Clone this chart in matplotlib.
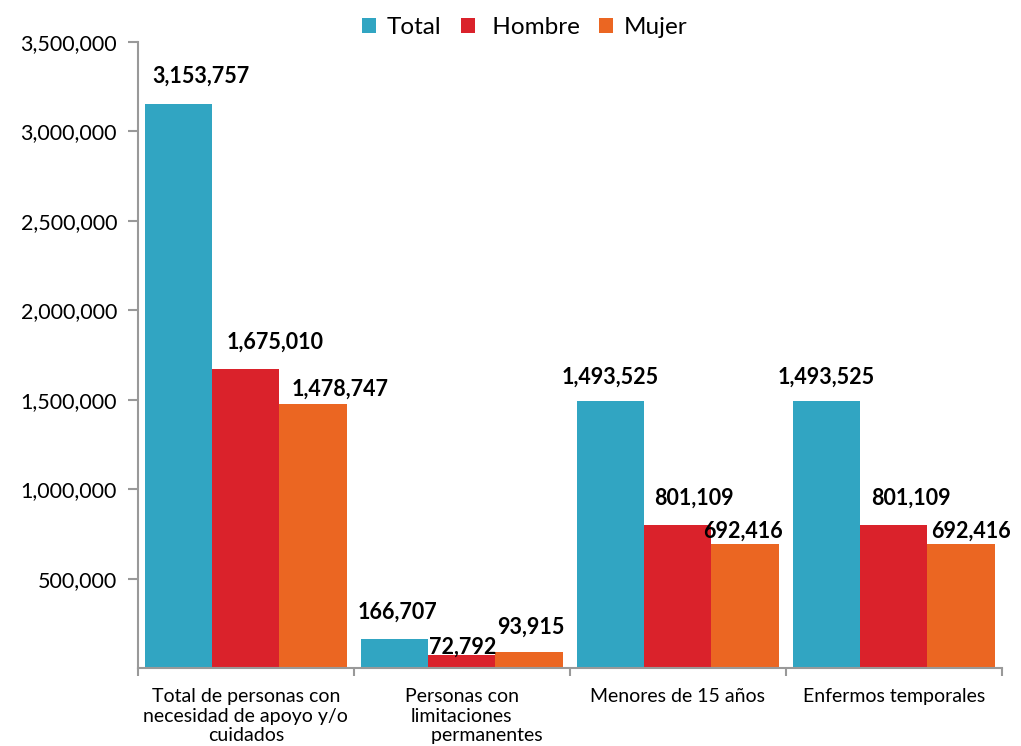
import numpy as np
import matplotlib.pyplot as plt
from matplotlib.ticker import FuncFormatter

categories = ["Total de personas con\nnecesidad de apoyo y/o\ncuidados",
              "Personas con\nlimitaciones\n          permanentes",
              "Menores de 15 años",
              "Enfermos temporales"]
series = ["Total", " Hombre", "Mujer"]
total = [3153757, 166707, 1493525, 1493525]
hombre = [1675010, 72792, 801109, 801109]
mujer = [1478747, 93915, 692416, 692416]

colors = ["#31A5C2", "#DA222B", "#EB6622"]
# manual label offsets (pixels) as in the original, per series / group
label_off = [
    [(23, 28), (3, 26), (0, 24), (0, 24)],
    [(29, 26), (1, 8), (16, 27), (17, 27)],
    [(27, 14), (2, 24), (-2, 13), (10, 13)],
]

plt.rcParams['font.family'] = ['Lato', 'DejaVu Sans']

fig = plt.figure(figsize=(10.21, 7.46), dpi=100)
ax = fig.add_axes([0.135, 0.104, 0.846, 0.84])

x = np.arange(len(categories))
w = 0.312
values = [total, hombre, mujer]
for i, (name, vals) in enumerate(zip(series, values)):
    pos = x + (i - 1) * w
    bars = ax.bar(pos, vals, width=w, color=colors[i], label=name, linewidth=0)
    for j, b in enumerate(bars):
        dx, dy = label_off[i][j]
        ax.annotate("{:,}".format(vals[j]), (b.get_x() + b.get_width() / 2, b.get_height()),
                    xytext=(dx, dy), textcoords='offset pixels',
                    ha='center', va='center', fontsize=15.5, fontweight='bold', color='black')

ax.set_xlim(-0.5, len(categories) - 0.5)
ax.set_ylim(0, 3500000)
ax.set_yticks(np.arange(500000, 3500001, 500000))
ax.yaxis.set_major_formatter(FuncFormatter(lambda v, p: "{:,}".format(int(v))))

ax.set_xticks(x)
ax.set_xticklabels(categories, fontsize=14, linespacing=1.2)
ax.set_xticks(np.arange(-0.5, len(categories), 1), minor=True)
ax.tick_params(axis='x', which='major', length=0, pad=14)
ax.tick_params(axis='x', which='minor', length=6, width=1.5, color='#999999', direction='out')
ax.tick_params(axis='y', length=7, width=1.5, color='#999999', labelsize=15.5, pad=8)

for s in ['top', 'right']:
    ax.spines[s].set_visible(False)
for s in ['left', 'bottom']:
    ax.spines[s].set_color('#999999')
    ax.spines[s].set_linewidth(1.5)

ax.legend(loc='upper center', bbox_to_anchor=(0.448, 1.074), ncol=3, frameon=False,
          fontsize=17.5, handlelength=0.58, handleheight=0.58, handletextpad=0.45,
          columnspacing=0.8)

fig.savefig("out.png", dpi=100)
